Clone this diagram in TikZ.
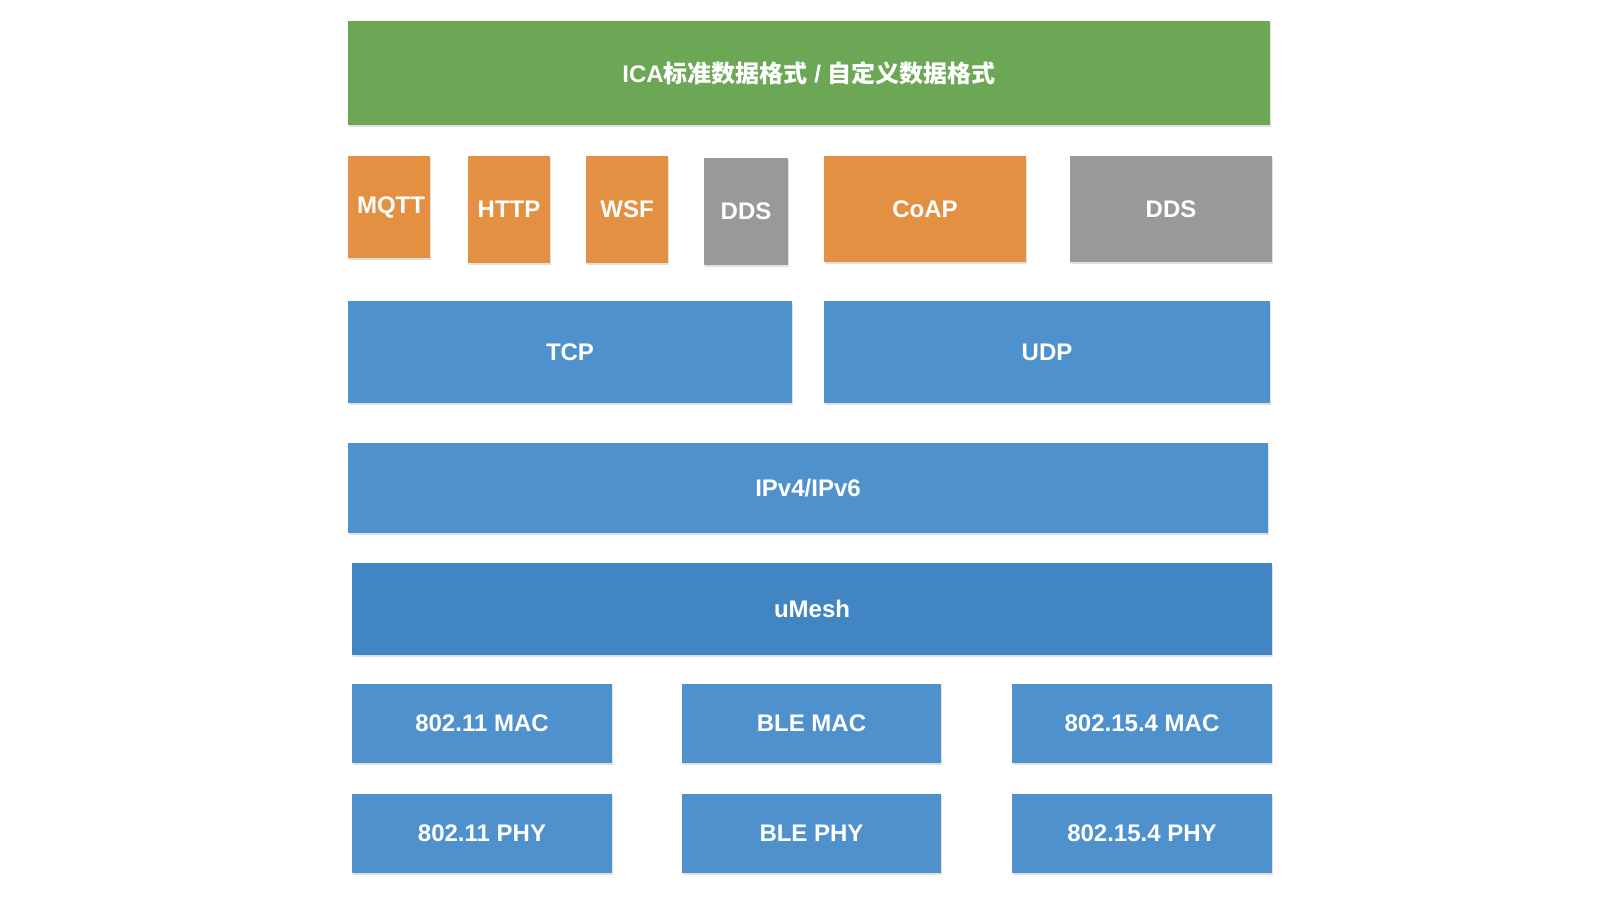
\documentclass[tikz,border=0pt]{standalone}
\usepackage{fontspec}
\setmainfont{Liberation Sans}
\newfontfamily\cjk{Noto Sans CJK SC}
\usetikzlibrary{shadows}
\definecolor{cgreen}{HTML}{6BA755}
\definecolor{corange}{HTML}{E39042}
\definecolor{cgray}{HTML}{999999}
\definecolor{cblue}{HTML}{4E91CC}
\definecolor{cdblue}{HTML}{4186C3}
\tikzset{
  layer/.style={fill=#1, inner sep=0pt, text=white, font=\fontsize{24}{26}\selectfont\bfseries,
    drop shadow={shadow xshift=1.2pt, shadow yshift=-1.5pt, opacity=0.12, fill=black}},
}
\begin{document}
\begin{tikzpicture}[x=1pt,y=-1pt]
\useasboundingbox[fill=white] (0,0) rectangle (1606,900);
% top
\node[layer=cgreen, minimum width=922pt, minimum height=104pt] (data) at (809,73)
  {ICA{\cjk\bfseries 标准数据格式} / {\cjk\bfseries 自定义数据格式}};
% protocols
\node[layer=corange, minimum width=82pt, minimum height=102pt] (mqtt) at (389,207) {\hspace*{4pt}MQTT};
\node[layer=corange, minimum width=82pt, minimum height=107pt] (http) at (509,209.5) {HTTP};
\node[layer=corange, minimum width=82pt, minimum height=107pt] (wsf) at (627,209.5) {WSF};
\node[layer=cgray, minimum width=84pt, minimum height=107pt] (dds1) at (746,211.5) {DDS};
\node[layer=corange, minimum width=202pt, minimum height=106pt] (coap) at (925,209) {CoAP};
\node[layer=cgray, minimum width=202pt, minimum height=106pt] (dds2) at (1171,209) {DDS};
% transport
\node[layer=cblue, minimum width=444pt, minimum height=102pt] (tcp) at (570,352) {TCP};
\node[layer=cblue, minimum width=446pt, minimum height=102pt] (udp) at (1047,352) {UDP};
% network
\node[layer=cblue, minimum width=920pt, minimum height=90pt] (ip) at (808,488) {IPv4/IPv6};
\node[layer=cdblue, minimum width=920pt, minimum height=92pt] (umesh) at (812,609) {uMesh};
% MAC
\node[layer=cblue, minimum width=260pt, minimum height=79pt] (mac1) at (482,723.5) {802.11 MAC};
\node[layer=cblue, minimum width=259pt, minimum height=79pt] (mac2) at (811.5,723.5) {BLE MAC};
\node[layer=cblue, minimum width=260pt, minimum height=79pt] (mac3) at (1142,723.5) {802.15.4 MAC};
% PHY
\node[layer=cblue, minimum width=260pt, minimum height=79pt] (phy1) at (482,833.5) {802.11 PHY};
\node[layer=cblue, minimum width=259pt, minimum height=79pt] (phy2) at (811.5,833.5) {BLE PHY};
\node[layer=cblue, minimum width=260pt, minimum height=79pt] (phy3) at (1142,833.5) {802.15.4 PHY};
\end{tikzpicture}
\end{document}
